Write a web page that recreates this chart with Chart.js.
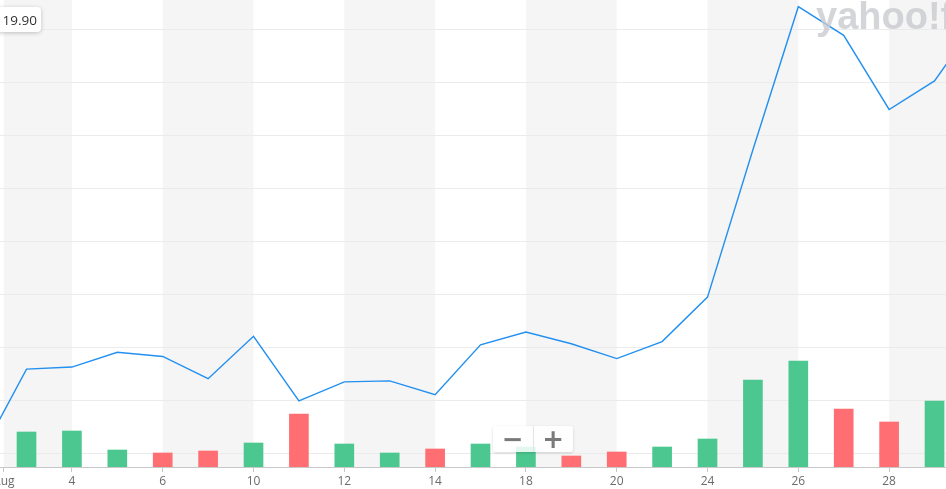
<!DOCTYPE html>
<html>
<head>
<meta charset="utf-8">
<script src="https://cdn.jsdelivr.net/npm/chart.js@4/dist/chart.umd.min.js"></script>
<style>
  html, body { margin: 0; padding: 0; background: #fff; overflow: hidden; }
  #wrap { position: relative; width: 946px; height: 489px; overflow: hidden; }
  #c { position: absolute; left: 0; top: 0; }
  .logo { position: absolute; left: 816px; top: -5px; font: 900 38px "Liberation Sans", "DejaVu Sans", sans-serif;
          color: rgba(200,202,208,0.8); letter-spacing: 0px; white-space: nowrap; pointer-events: none; }
  .price { position: absolute; left: -6px; top: 7px; width: 47px; height: 25px; background: #fff; border-radius: 4px;
           box-shadow: 0 1px 4px rgba(0,0,0,0.22); font: 13.5px "Open Sans", sans-serif; color: #333;
           display: flex; align-items: center; justify-content: flex-end; box-sizing: border-box; }
  .price span { margin-right: 4px; }
  .zoom { position: absolute; left: 493px; top: 426px; width: 80px; height: 26px; display: flex;
          background: rgba(255,255,255,0.85); border-radius: 3px; box-shadow: 0 1px 3px rgba(0,0,0,0.16); }
  .zoom div { flex: 1; display: flex; align-items: center; justify-content: center;
              font: bold 26px "DejaVu Sans", sans-serif; color: #7a7a7a; line-height: 1; }
  .zoom div:first-child { border-right: 1px solid #e4e4e4; }
</style>
</head>
<body>
<div id="wrap">
  <canvas id="c" width="946" height="489"></canvas>
  <div class="logo">yahoo!finance</div>
  <div class="price"><span>19.90</span></div>
  <div class="zoom"><div>−</div><div>+</div></div>
</div>
<script>
// ---- data ----
const dates = ["2020-07-31","2020-08-03","2020-08-04","2020-08-05","2020-08-06","2020-08-07",
  "2020-08-10","2020-08-11","2020-08-12","2020-08-13","2020-08-14",
  "2020-08-17","2020-08-18","2020-08-19","2020-08-20","2020-08-21",
  "2020-08-24","2020-08-25","2020-08-26","2020-08-27","2020-08-28","2020-08-31","2020-09-01"];
const closes = [15.50,16.30,16.32,16.46,16.42,16.21,
  16.61,16.00,16.18,16.19,16.06,
  16.53,16.65,16.54,16.40,16.56,
  16.98,18.37,19.72,19.45,18.75,19.02,19.62];
const volumes = [600000,700000,720000,340000,280000,320000,
  480000,1060000,460000,280000,360000,
  460000,400000,220000,300000,400000,
  560000,1740000,2120000,1160000,900000,1320000,1400000];
const tickDates = ["2020-08-01","2020-08-04","2020-08-06","2020-08-10","2020-08-12","2020-08-14",
  "2020-08-18","2020-08-20","2020-08-24","2020-08-26","2020-08-28"];
const tickLabels = ["Aug","4","6","10","12","14","18","20","24","26","28"];
const priceGrid = [15.5,16.0,16.5,17.0,17.5,18.0,18.5,19.0,19.5];

// ---- derived ----
const tickPos = tickDates.map(t => {
  const i = dates.findIndex(d => d >= t);
  return dates[i] === t ? i : i - 0.5;
});
const lineData = closes.map((v, i) => ({ x: i, y: v }));
const barData = volumes.map((v, i) => ({ x: i, y: v }));
const barColors = closes.map((v, i) => (i === 0 || v >= closes[i - 1]) ? '#4cc790' : '#ff6e72');

const bands = {
  id: 'bands',
  beforeDraw(chart) {
    const { ctx, chartArea: a, scales: { x } } = chart;
    ctx.save();
    ctx.fillStyle = '#f5f5f5';
    const t = x.ticks;
    for (let k = 0; k < t.length; k += 2) {
      const x0 = x.getPixelForValue(t[k].value);
      const x1 = k + 1 < t.length ? x.getPixelForValue(t[k + 1].value) : a.right;
      ctx.fillRect(x0, a.top, x1 - x0, a.bottom - a.top);
    }
    ctx.restore();
  }
};

new Chart(document.getElementById('c'), {
  type: 'bar',
  data: {
    datasets: [
      { type: 'line', data: lineData, yAxisID: 'y', borderColor: '#2290f0', borderWidth: 1.4,
        pointRadius: 0, tension: 0, fill: false, order: 0 },
      { type: 'bar', data: barData, yAxisID: 'vol', backgroundColor: barColors,
        barThickness: 19, borderWidth: 0, order: 1 }
    ]
  },
  plugins: [bands],
  options: {
    responsive: false,
    animation: false,
    devicePixelRatio: 1,
    layout: { padding: 0 },
    plugins: { legend: { display: false }, tooltip: { enabled: false } },
    scales: {
      x: {
        type: 'linear', min: 0.416, max: 21.253, position: 'bottom', offset: false,
        afterBuildTicks: s => { s.ticks = tickPos.map(v => ({ value: v })); },
        afterFit: s => { s.paddingLeft = 0; s.paddingRight = 0; s.height = 22; },
        ticks: { callback: (v, i) => tickLabels[i], color: '#6b6b6b', padding: 2,
                 font: { family: 'Open Sans', size: 12 }, maxRotation: 0, autoSkip: false },
        grid: { offset: false, drawOnChartArea: false, drawTicks: true, tickLength: 5, color: '#c8c8c8' },
        border: { display: true, color: '#c8c8c8', width: 1 }
      },
      y: {
        position: 'right', min: 15.377, max: 19.783,
        afterBuildTicks: s => { s.ticks = priceGrid.map(v => ({ value: v })); },
        afterFit: s => { s.width = 0; },
        ticks: { display: false },
        grid: { color: '#ebebeb', drawTicks: false },
        border: { display: false }
      },
      vol: { display: false, min: 0, max: 9340000 }
    }
  }
});
</script>
</body>
</html>
